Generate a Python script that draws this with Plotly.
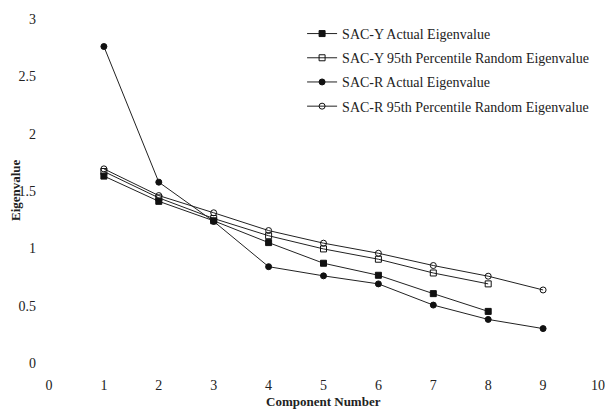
import plotly.graph_objects as go

components = [1, 2, 3, 4, 5, 6, 7, 8, 9]
sac_y_actual = [1.63, 1.41, 1.24, 1.05, 0.87, 0.765, 0.605, 0.45]
sac_y_random = [1.67, 1.44, 1.26, 1.11, 0.995, 0.905, 0.785, 0.69]
sac_r_actual = [2.76, 1.577, 1.235, 0.84, 0.76, 0.69, 0.505, 0.38, 0.30]
sac_r_random = [1.693, 1.46, 1.31, 1.155, 1.045, 0.957, 0.85, 0.757, 0.637]

names = ["SAC-Y Actual Eigenvalue", "SAC-Y 95th Percentile Random Eigenvalue",
         "SAC-R Actual Eigenvalue", "SAC-R 95th Percentile Random Eigenvalue"]
series = [sac_y_actual, sac_y_random, sac_r_actual, sac_r_random]
symbols = ["square", "square-open", "circle", "circle-open"]

x_ticks = list(range(0, 11))
y_ticks = [0, 0.5, 1, 1.5, 2, 2.5, 3]
y_labels = ["0", "0.5", "1", "1.5", "2", "2.5", "3"]

fig = go.Figure()
for i, (nm, vals, sym) in enumerate(zip(names, series, symbols)):
    fig.add_trace(go.Scatter(
        x=components[:len(vals)], y=vals, name=nm, mode="lines+markers",
        line=dict(color="#222222", width=1),
        marker=dict(symbol=sym, size=6, color="#111111",
                    line=dict(color="#111111", width=1)),
        legendgroup=f"g{i}",
    ))

font = "Liberation Serif, Times New Roman, serif"
fig.update_layout(
    width=605, height=412,
    margin=dict(l=49, r=7, t=19, b=49),
    paper_bgcolor="white", plot_bgcolor="white",
    font=dict(family=font, size=12, color="#222222"),
    showlegend=True,
    legend=dict(x=0.461, y=1.003, xanchor="left", yanchor="top",
                font=dict(family=font, size=14, color="#222222"),
                tracegroupgap=3, bgcolor="rgba(0,0,0,0)",
                itemwidth=30),
    xaxis=dict(range=[0, 10], tickvals=x_ticks, showgrid=False, zeroline=False,
               showline=False, ticks="", ticklabelstandoff=12, automargin=False,
               tickfont=dict(family=font, size=14)),
    yaxis=dict(range=[0, 3], tickvals=y_ticks, ticktext=y_labels, showgrid=False,
               zeroline=False, showline=False, ticks="", ticklabelstandoff=12,
               automargin=False, tickfont=dict(family=font, size=14)),
    annotations=[
        dict(text="<b>Component Number</b>", xref="paper", yref="paper",
             x=0.5, y=-0.113, xanchor="center", yanchor="middle", showarrow=False,
             font=dict(family=font, size=13, color="#222222")),
        dict(text="<b>Eigenvalue</b>", xref="paper", yref="paper",
             x=-0.060, y=0.503, xanchor="center", yanchor="middle", showarrow=False,
             textangle=-90, font=dict(family=font, size=13, color="#222222")),
    ],
)
fig.write_html("out.html", config={"displayModeBar": False},
               post_script="document.body.style.margin='0';")
